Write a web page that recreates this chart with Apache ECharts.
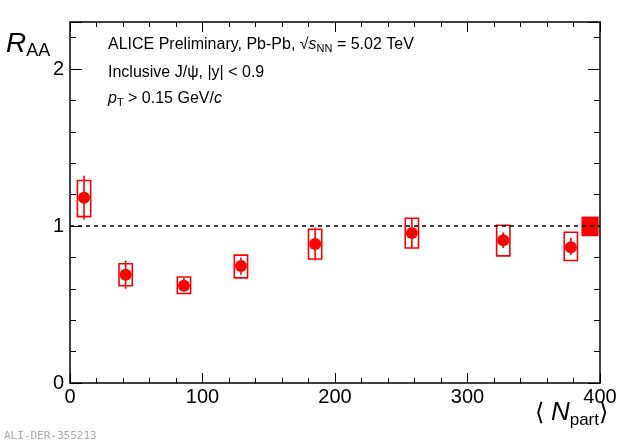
<!DOCTYPE html>
<html><head><meta charset="utf-8">
<script src="https://cdn.jsdelivr.net/npm/echarts@6/dist/echarts.min.js"></script>
<style>html,body{margin:0;background:#fff}#c{width:622px;height:448px}</style>
</head><body><div id="c"></div>
<script>
// <Npart>, RAA, stat and syst uncertainties
const npart = [10.6, 42, 86, 129, 185, 258, 327, 378];
const raa = [1.18, 0.69, 0.62, 0.745, 0.885, 0.955, 0.91, 0.865];
const statLo = [1.04, 0.60, 0.58, 0.69, 0.78, 0.86, 0.86, 0.815];
const statHi = [1.32, 0.78, 0.67, 0.80, 0.99, 1.05, 0.96, 0.925];
const sysLo = [1.06, 0.62, 0.57, 0.67, 0.79, 0.86, 0.81, 0.78];
const sysHi = [1.29, 0.76, 0.675, 0.815, 0.98, 1.05, 1.005, 0.96];
const globalBox = [386, 399, 0.935, 1.06];
const boxHalf = 5;

const chart = echarts.init(document.getElementById('c'));
const axisLine = { onZero: false, lineStyle: { color: '#000', width: 1.5 } };
const font = 'Liberation Sans, Arial, sans-serif';

const errData = npart.map((n, i) => [n, raa[i], statLo[i], statHi[i], sysLo[i], sysHi[i]]);

chart.setOption({
  animation: false,
  grid: { left: 70, right: 22, top: 22, bottom: 65 },
  xAxis: [
    { type: 'value', min: 0, max: 400, interval: 100, axisLine,
      axisTick: { inside: true, length: 10, lineStyle: { color: '#000' } },
      minorTick: { show: true, splitNumber: 5, length: 5, lineStyle: { color: '#000' } },
      splitLine: { show: false },
      axisLabel: { color: '#000', fontSize: 20, fontFamily: font, margin: 4 } },
    { type: 'value', position: 'top', min: 0, max: 400, interval: 100, axisLine,
      axisTick: { inside: true, length: 10, lineStyle: { color: '#000' } },
      minorTick: { show: true, splitNumber: 5, length: 5, lineStyle: { color: '#000' } },
      splitLine: { show: false }, axisLabel: { show: false } }
  ],
  yAxis: [
    { type: 'value', min: 0, max: 2.3, interval: 1, axisLine,
      axisTick: { inside: true, length: 12, lineStyle: { color: '#000' } },
      minorTick: { show: true, splitNumber: 5, length: 6, lineStyle: { color: '#000' } },
      splitLine: { show: false },
      axisLabel: { color: '#000', fontSize: 20, fontFamily: font, margin: 6, showMaxLabel: false } },
    { type: 'value', position: 'right', min: 0, max: 2.3, interval: 1, axisLine,
      axisTick: { inside: true, length: 12, lineStyle: { color: '#000' } },
      minorTick: { show: true, splitNumber: 5, length: 6, lineStyle: { color: '#000' } },
      splitLine: { show: false }, axisLabel: { show: false } }
  ],
  series: [
    { type: 'custom', data: errData, z: 3,
      renderItem(params, api) {
        const x = api.value(0);
        const p0 = api.coord([x - boxHalf, api.value(4)]);
        const p1 = api.coord([x + boxHalf, api.value(5)]);
        const s0 = api.coord([x, api.value(2)]);
        const s1 = api.coord([x, api.value(3)]);
        return { type: 'group', children: [
          { type: 'rect', shape: { x: p0[0], y: p1[1], width: p1[0] - p0[0], height: p0[1] - p1[1] },
            style: { fill: 'none', stroke: '#ff0000', lineWidth: 1.6 } },
          { type: 'line', shape: { x1: s0[0], y1: s0[1], x2: s1[0], y2: s1[1] },
            style: { stroke: '#ff0000', lineWidth: 1.6 } }
        ] };
      }
    },
    { type: 'custom', data: [globalBox], z: 3,
      renderItem(params, api) {
        const a = api.coord([api.value(0), api.value(3)]);
        const b = api.coord([api.value(1), api.value(2)]);
        return { type: 'rect', shape: { x: a[0], y: a[1], width: b[0] - a[0], height: b[1] - a[1] },
          style: { fill: '#ff0000' } };
      }
    },
    { type: 'scatter', data: npart.map((n, i) => [n, raa[i]]), symbolSize: 12, z: 4,
      itemStyle: { color: '#ff0000', opacity: 1 },
      markLine: { silent: true, symbol: 'none', label: { show: false },
        lineStyle: { color: '#000', type: [4, 4], width: 1.5 },
        data: [{ yAxis: 1 }] } }
  ],
  graphic: [
    { type: 'text', left: 108, top: 37, style: { rich: {
        n: { fontSize: 16, fontFamily: font, fill: '#000' },
        s: { fontSize: 16, fontFamily: font, fontStyle: 'italic', fill: '#000' },
        sub: { fontSize: 11, fontFamily: font, fill: '#000', verticalAlign: 'bottom', padding: [8, 0, 0, 0] } },
      text: '{n|ALICE Preliminary, Pb-Pb, √}{s|s}{sub|NN}{n| = 5.02 TeV}' } },
    { type: 'text', left: 108, top: 65, style: { text: 'Inclusive J/ψ, |y| < 0.9', fontSize: 16, fontFamily: font, fill: '#000' } },
    { type: 'text', left: 108, top: 91, style: { rich: {
        s: { fontSize: 16, fontFamily: font, fontStyle: 'italic', fill: '#000' },
        n: { fontSize: 16, fontFamily: font, fill: '#000' },
        sub: { fontSize: 11, fontFamily: font, fill: '#000', padding: [8, 0, 0, 0] } },
      text: '{s|p}{sub|T}{n| > 0.15 GeV/}{s|c}' } },
    { type: 'text', left: 6, top: 30, style: { rich: {
        r: { fontSize: 28, fontFamily: font, fontStyle: 'italic', fill: '#000' },
        sub: { fontSize: 18, fontFamily: font, fill: '#000', padding: [14, 0, 0, 0] } },
      text: '{r|R}{sub|AA}' } },
    { type: 'text', right: 14, top: 400, style: { rich: {
        n: { fontSize: 24, fontFamily: font, fill: '#000' },
        i: { fontSize: 26, fontFamily: font, fontStyle: 'italic', fill: '#000' },
        sub: { fontSize: 17, fontFamily: font, fill: '#000', padding: [14, 0, 0, 0] } },
      text: '{n|⟨ }{i|N}{sub|part}{n|⟩}' } },
    { type: 'text', left: 4, top: 431, style: { text: 'ALI-DER-355213', fontSize: 11, fontFamily: 'DejaVu Sans Mono, monospace', fill: '#aaa' } }
  ]
});
</script></body></html>
